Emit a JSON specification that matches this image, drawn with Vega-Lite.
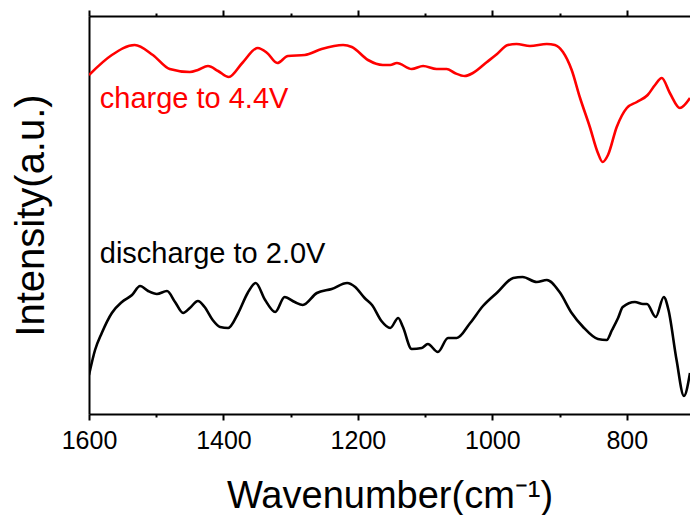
{
  "$schema": "https://vega.github.io/schema/vega-lite/v6.json",
  "width": 601,
  "height": 398,
  "autosize": {"type": "none"},
  "padding": {"left": 89, "top": 16, "right": 0, "bottom": 101},
  "background": "white",
  "config": {
    "view": {"stroke": null},
    "font": "Liberation Sans",
    "axis": {"domainColor": "black", "domainWidth": 2, "tickColor": "black", "tickWidth": 2, "labelColor": "black", "titleColor": "black", "grid": false, "labelFont": "Liberation Sans", "titleFont": "Liberation Sans", "titleFontWeight": "normal"}
  },
  "datasets": {
    "spectra": [
      {"series": "charge", "wn": 1600, "v": 339},
      {"series": "charge", "wn": 1566, "v": 359},
      {"series": "charge", "wn": 1532, "v": 369},
      {"series": "charge", "wn": 1505, "v": 359},
      {"series": "charge", "wn": 1480, "v": 345},
      {"series": "charge", "wn": 1450, "v": 342},
      {"series": "charge", "wn": 1438, "v": 344},
      {"series": "charge", "wn": 1423, "v": 348},
      {"series": "charge", "wn": 1408, "v": 343},
      {"series": "charge", "wn": 1392, "v": 337},
      {"series": "charge", "wn": 1372, "v": 351},
      {"series": "charge", "wn": 1349, "v": 366},
      {"series": "charge", "wn": 1335, "v": 361},
      {"series": "charge", "wn": 1320, "v": 351},
      {"series": "charge", "wn": 1304, "v": 358},
      {"series": "charge", "wn": 1279, "v": 359},
      {"series": "charge", "wn": 1254, "v": 365},
      {"series": "charge", "wn": 1222, "v": 369},
      {"series": "charge", "wn": 1209, "v": 367},
      {"series": "charge", "wn": 1185, "v": 354},
      {"series": "charge", "wn": 1163, "v": 349},
      {"series": "charge", "wn": 1152, "v": 349},
      {"series": "charge", "wn": 1142, "v": 351},
      {"series": "charge", "wn": 1120, "v": 345},
      {"series": "charge", "wn": 1103, "v": 348},
      {"series": "charge", "wn": 1083, "v": 345},
      {"series": "charge", "wn": 1068, "v": 345},
      {"series": "charge", "wn": 1056, "v": 341},
      {"series": "charge", "wn": 1041, "v": 338},
      {"series": "charge", "wn": 1029, "v": 341},
      {"series": "charge", "wn": 1008, "v": 352},
      {"series": "charge", "wn": 993, "v": 360},
      {"series": "charge", "wn": 977, "v": 369},
      {"series": "charge", "wn": 964, "v": 370},
      {"series": "charge", "wn": 944, "v": 368},
      {"series": "charge", "wn": 919, "v": 370},
      {"series": "charge", "wn": 907, "v": 369},
      {"series": "charge", "wn": 895, "v": 362},
      {"series": "charge", "wn": 882, "v": 344},
      {"series": "charge", "wn": 870, "v": 317},
      {"series": "charge", "wn": 855, "v": 287},
      {"series": "charge", "wn": 843, "v": 261},
      {"series": "charge", "wn": 836, "v": 252},
      {"series": "charge", "wn": 828, "v": 259},
      {"series": "charge", "wn": 815, "v": 287},
      {"series": "charge", "wn": 800, "v": 306},
      {"series": "charge", "wn": 785, "v": 312},
      {"series": "charge", "wn": 769, "v": 319},
      {"series": "charge", "wn": 758, "v": 329},
      {"series": "charge", "wn": 748, "v": 336},
      {"series": "charge", "wn": 736, "v": 321},
      {"series": "charge", "wn": 721, "v": 306},
      {"series": "charge", "wn": 706, "v": 316},
      {"series": "discharge", "wn": 1600, "v": 39},
      {"series": "discharge", "wn": 1591, "v": 64},
      {"series": "discharge", "wn": 1581, "v": 81},
      {"series": "discharge", "wn": 1566, "v": 101},
      {"series": "discharge", "wn": 1551, "v": 112},
      {"series": "discharge", "wn": 1536, "v": 119},
      {"series": "discharge", "wn": 1524, "v": 128},
      {"series": "discharge", "wn": 1512, "v": 123},
      {"series": "discharge", "wn": 1499, "v": 120},
      {"series": "discharge", "wn": 1484, "v": 123},
      {"series": "discharge", "wn": 1472, "v": 112},
      {"series": "discharge", "wn": 1460, "v": 101},
      {"series": "discharge", "wn": 1450, "v": 106},
      {"series": "discharge", "wn": 1438, "v": 113},
      {"series": "discharge", "wn": 1428, "v": 107},
      {"series": "discharge", "wn": 1416, "v": 94},
      {"series": "discharge", "wn": 1405, "v": 87},
      {"series": "discharge", "wn": 1393, "v": 86},
      {"series": "discharge", "wn": 1378, "v": 101},
      {"series": "discharge", "wn": 1364, "v": 121},
      {"series": "discharge", "wn": 1352, "v": 131},
      {"series": "discharge", "wn": 1338, "v": 114},
      {"series": "discharge", "wn": 1323, "v": 102},
      {"series": "discharge", "wn": 1309, "v": 117},
      {"series": "discharge", "wn": 1294, "v": 112},
      {"series": "discharge", "wn": 1282, "v": 109},
      {"series": "discharge", "wn": 1261, "v": 121},
      {"series": "discharge", "wn": 1239, "v": 125},
      {"series": "discharge", "wn": 1216, "v": 131},
      {"series": "discharge", "wn": 1204, "v": 127},
      {"series": "discharge", "wn": 1190, "v": 116},
      {"series": "discharge", "wn": 1179, "v": 109},
      {"series": "discharge", "wn": 1165, "v": 93},
      {"series": "discharge", "wn": 1152, "v": 86},
      {"series": "discharge", "wn": 1140, "v": 96},
      {"series": "discharge", "wn": 1133, "v": 87},
      {"series": "discharge", "wn": 1120, "v": 65},
      {"series": "discharge", "wn": 1105, "v": 66},
      {"series": "discharge", "wn": 1096, "v": 70},
      {"series": "discharge", "wn": 1081, "v": 62},
      {"series": "discharge", "wn": 1066, "v": 76},
      {"series": "discharge", "wn": 1053, "v": 76},
      {"series": "discharge", "wn": 1033, "v": 91},
      {"series": "discharge", "wn": 1014, "v": 108},
      {"series": "discharge", "wn": 992, "v": 122},
      {"series": "discharge", "wn": 969, "v": 136},
      {"series": "discharge", "wn": 955, "v": 137},
      {"series": "discharge", "wn": 934, "v": 132},
      {"series": "discharge", "wn": 919, "v": 134},
      {"series": "discharge", "wn": 900, "v": 122},
      {"series": "discharge", "wn": 882, "v": 101},
      {"series": "discharge", "wn": 865, "v": 87},
      {"series": "discharge", "wn": 843, "v": 75},
      {"series": "discharge", "wn": 830, "v": 74},
      {"series": "discharge", "wn": 822, "v": 84},
      {"series": "discharge", "wn": 813, "v": 96},
      {"series": "discharge", "wn": 806, "v": 107},
      {"series": "discharge", "wn": 788, "v": 112},
      {"series": "discharge", "wn": 776, "v": 110},
      {"series": "discharge", "wn": 770, "v": 110},
      {"series": "discharge", "wn": 757, "v": 97},
      {"series": "discharge", "wn": 745, "v": 117},
      {"series": "discharge", "wn": 738, "v": 104},
      {"series": "discharge", "wn": 726, "v": 54},
      {"series": "discharge", "wn": 715, "v": 18},
      {"series": "discharge", "wn": 706, "v": 41}
    ],
    "labels": [
      {"series": "charge", "wn": 1584, "v": 306, "text": "charge to 4.4V"},
      {"series": "discharge", "wn": 1584, "v": 151, "text": "discharge to 2.0V"}
    ]
  },
  "layer": [
    {
      "data": {"name": "spectra"},
      "mark": {"type": "line", "interpolate": "monotone", "strokeWidth": 2.6, "clip": true},
      "encoding": {
        "x": {"field": "wn", "type": "quantitative",
          "scale": {"domain": [1600, 706], "nice": false, "zero": false},
          "axis": {"orient": "bottom", "values": [1600, 1500, 1400, 1300, 1200, 1100, 1000, 900, 800, 700],
            "labelExpr": "datum.value % 200 == 0 ? datum.label : ''",
            "format": "d",
            "tickSize": {"condition": {"test": "datum.value % 200 != 0", "value": 3}, "value": 6},
            "labelFontSize": 25, "labelPadding": 8, "labelFlush": false,
            "title": "Wavenumber(cm⁻¹)", "titleFontSize": 38, "titlePadding": 24}},
        "y": {"field": "v", "type": "quantitative",
          "scale": {"domain": [0, 398], "nice": false, "zero": false},
          "axis": {"orient": "left", "ticks": false, "labels": false, "title": "Intensity(a.u.)", "titleFontSize": 40, "titlePadding": 38}},
        "color": {"field": "series", "type": "nominal", "scale": {"domain": ["charge", "discharge"], "range": ["#ff0000", "#000000"]}, "legend": null}
      }
    },
    {
      "data": {"name": "labels"},
      "mark": {"type": "text", "align": "left", "baseline": "alphabetic", "fontSize": 29, "font": "Liberation Sans"},
      "encoding": {
        "x": {"field": "wn", "type": "quantitative",
          "axis": {"orient": "top", "values": [1600, 1500, 1400, 1300, 1200, 1100, 1000, 900, 800, 700], "labels": false, "title": null,
            "tickSize": {"condition": {"test": "datum.value % 200 != 0", "value": 3}, "value": 6}}},
        "y": {"field": "v", "type": "quantitative"},
        "text": {"field": "text"},
        "color": {"field": "series", "type": "nominal"}
      }
    }
  ],
  "resolve": {"axis": {"x": "independent"}}
}
